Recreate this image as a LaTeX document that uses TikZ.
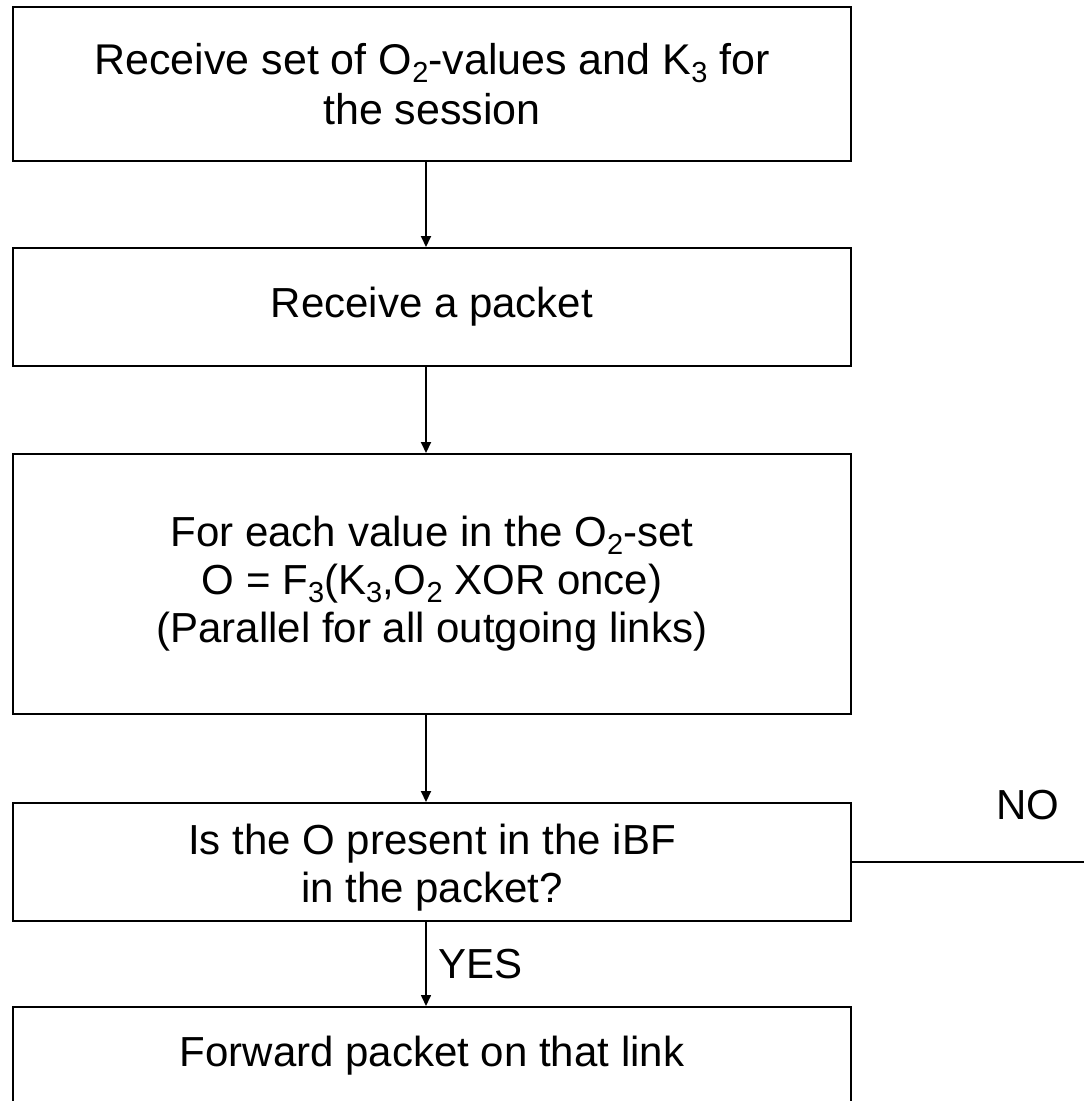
\documentclass[tikz,border=0pt]{standalone}
\usepackage{fontspec}
\setmainfont{Liberation Sans}
\usetikzlibrary{arrows.meta}

% lowered index digits, as in O_2 and K_3
\newcommand\lowidx[1]{\raisebox{-8pt}{\fontsize{29}{29}\selectfont #1}}

\begin{document}
\begin{tikzpicture}[x=1pt,y=-1pt,
  stepbox/.style={draw=black, line width=2pt, fill=white, minimum width=838pt,
    align=center, inner sep=0pt, font=\fontsize{42}{48}\selectfont},
  boxtext/.style={align=center, inner sep=0pt, font=\fontsize{42}{48}\selectfont},
  flow/.style={line width=2pt, -{Triangle[length=11pt,width=10pt]}},
  lbl/.style={font=\fontsize{42}{48}\selectfont, inner sep=0pt}]
  \useasboundingbox (0,0) rectangle (1084,1101);

  % process boxes, top to bottom
  \node[stepbox, minimum height=154pt, font=\fontsize{43}{50}\selectfont] (b1) at (432,84)
    {Receive set of O\lowidx{2}-values and K\lowidx{3} for\\the session};
  \node[stepbox, minimum height=118pt] (b2) at (432,307) {Receive a packet};
  \node[stepbox, minimum height=260pt] (b3) at (432,584)
    {For each value in the O\lowidx{2}-set\\
     O = F\lowidx{3}(K\lowidx{3},O\lowidx{2} XOR once)\\
     (Parallel for all outgoing links)};
  \node[stepbox, minimum height=118pt] (b4) at (432,862) {};
  \node[boxtext] (b4t) at ([yshift=-6pt]b4.center)
    {Is the O present in the iBF\\in the packet?};
  \node[stepbox, minimum height=97pt] (b5) at (432,1055.5) {Forward packet on that link};

  % vertical flow line position and the free end of the NO branch
  \coordinate (ax) at (426,0);
  \coordinate (noend) at (1084,862);

  \draw[flow] (b1.south -| ax) -- (b2.north -| ax);
  \draw[flow] (b2.south -| ax) -- (b3.north -| ax);
  \draw[flow] (b3.south -| ax) -- (b4.north -| ax);
  \draw[flow, line width=1.6pt] (b4.south -| ax) -- (b5.north -| ax)
    node[lbl, midway, right=12pt] (yes) {YES};

  \draw[line width=2pt] (b4.east) -- (noend);
  \node[lbl] (no) at (1028,805) {NO};
\end{tikzpicture}
\end{document}
